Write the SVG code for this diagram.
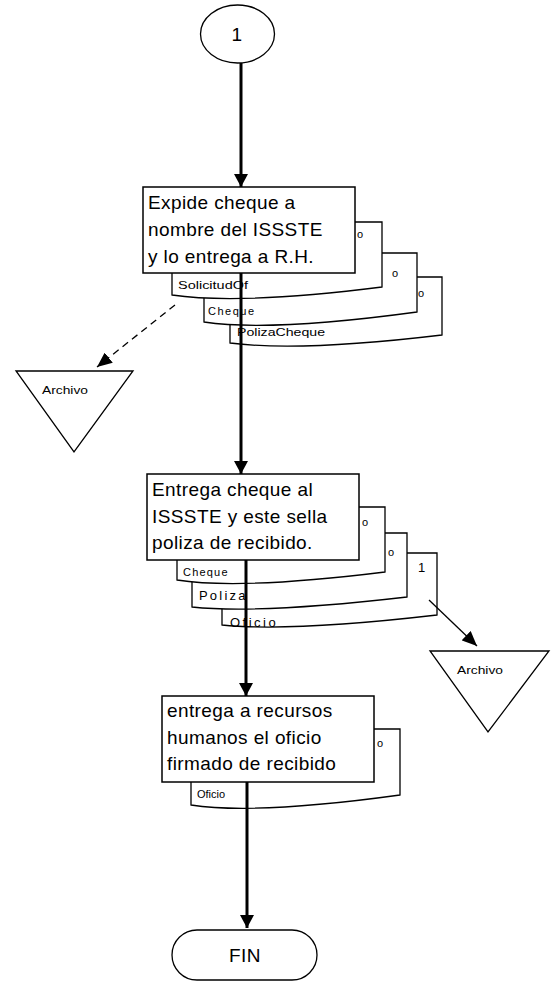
<svg xmlns="http://www.w3.org/2000/svg" width="557" height="982" viewBox="0 0 557 982">
<style>
.box{fill:#fff;stroke:#000;stroke-width:1.5}
.doc{fill:#fff;stroke:#000;stroke-width:1.3}
.t{font-family:"Liberation Sans",Arial,sans-serif;font-size:19px;letter-spacing:0.4px;fill:#000}
.s{font-family:"Liberation Sans",Arial,sans-serif;font-size:11px;fill:#000}
.m{font-family:"Liberation Sans",Arial,sans-serif;font-size:13px;fill:#000}
.main{stroke:#000;stroke-width:3;fill:none}
.thin{stroke:#000;stroke-width:1.3;fill:none}
</style>
<defs>
<marker id="ah" markerUnits="userSpaceOnUse" markerWidth="13" markerHeight="14" refX="13" refY="7" orient="auto">
<path d="M0,0 L13,7 L0,14 z" fill="#000"/>
</marker>
<marker id="ahs" markerUnits="userSpaceOnUse" markerWidth="15" markerHeight="13" refX="15" refY="6.5" orient="auto">
<path d="M0,0 L15,6.5 L0,13 z" fill="#000"/>
</marker>
</defs>

<g id="start">
<ellipse cx="237.5" cy="34" rx="37" ry="29" fill="#fff" stroke="#000" stroke-width="1.3"/>
<text class="t" x="237" y="41" font-size="21" text-anchor="middle">1</text>
</g>

<g id="docs1">
<path class="doc" d="M230,277 H442 V335 Q300,352 230,343 Z"/>
<text class="s" x="237" y="336" textLength="88" lengthAdjust="spacingAndGlyphs">PolizaCheque</text>
<text class="s" x="418" y="297">o</text>
<path class="doc" d="M204,253 H417 V312 Q270,332 204,322 Z"/>
<text class="s" x="208" y="315" letter-spacing="1.5">Cheque</text>
<text class="s" x="392" y="277">o</text>
<path class="doc" d="M172,222 H382 V287 Q240,305 172,295 Z"/>
<text class="s" x="178" y="289" textLength="70" lengthAdjust="spacingAndGlyphs">SolicitudOf</text>
<text class="s" x="357" y="238">o</text>
</g>

<g id="box1">
<rect class="box" x="143" y="187" width="212" height="86"/>
<text class="t" x="148" y="209">Expide cheque a</text>
<text class="t" x="148" y="236">nombre del ISSSTE</text>
<text class="t" x="148" y="263">y lo entrega a R.H.</text>
</g>

<g id="archivo1">
<path d="M16,371 H133 L74,452 Z" fill="#fff" stroke="#000" stroke-width="1.3"/>
<text class="s" x="42" y="394" textLength="46" lengthAdjust="spacingAndGlyphs">Archivo</text>
</g>

<g id="docs2">
<path class="doc" d="M222,553 H437 V615 Q290,632 222,625 Z"/>
<text class="m" x="230" y="627" letter-spacing="2.5">Oficio</text>
<text class="m" x="418" y="572">1</text>
<path class="doc" d="M192,533 H407 V597 Q260,614 192,607 Z"/>
<text class="m" x="199" y="600" letter-spacing="2.2">Poliza</text>
<text class="s" x="388" y="556">o</text>
<path class="doc" d="M177,507 H385 V572 Q240,590 177,580 Z"/>
<text class="s" x="183" y="576" letter-spacing="1.2">Cheque</text>
<text class="s" x="362" y="526">o</text>
</g>

<g id="box2">
<rect class="box" x="147" y="474" width="212" height="86"/>
<text class="t" x="152" y="496">Entrega cheque al</text>
<text class="t" x="152" y="523">ISSSTE y este sella</text>
<text class="t" x="152" y="549">poliza de recibido.</text>
</g>

<g id="archivo2">
<path d="M430,651 H549 L488,732 Z" fill="#fff" stroke="#000" stroke-width="1.3"/>
<text class="s" x="457" y="674" textLength="46" lengthAdjust="spacingAndGlyphs">Archivo</text>
</g>

<g id="docs3">
<path class="doc" d="M191,729 H400 V795 Q255,815 191,805 Z"/>
<text class="s" x="197" y="798" font-size="10">Oficio</text>
<text class="s" x="377" y="747">o</text>
</g>

<g id="box3">
<rect class="box" x="162" y="696" width="212" height="86"/>
<text class="t" x="167" y="717">entrega a recursos</text>
<text class="t" x="167" y="744">humanos el oficio</text>
<text class="t" x="167" y="770">firmado de recibido</text>
</g>

<g id="fin">
<rect x="172" y="930" width="145" height="50" rx="25" ry="25" fill="#fff" stroke="#000" stroke-width="1.3"/>
<text class="t" x="245" y="962" font-size="20" text-anchor="middle">FIN</text>
</g>

<g id="connectors">
<line class="main" x1="241" y1="63" x2="241" y2="187" marker-end="url(#ah)"/>
<line class="main" x1="241" y1="273" x2="241" y2="474" marker-end="url(#ah)"/>
<line class="main" x1="246" y1="560" x2="246" y2="696" marker-end="url(#ah)"/>
<line class="main" x1="247" y1="782" x2="247" y2="928" marker-end="url(#ah)"/>
<line class="thin" x1="175" y1="305" x2="97" y2="367" stroke-dasharray="7 5" marker-end="url(#ahs)"/>
<line class="thin" x1="429" y1="600" x2="477" y2="646" marker-end="url(#ahs)"/>
</g>
</svg>
